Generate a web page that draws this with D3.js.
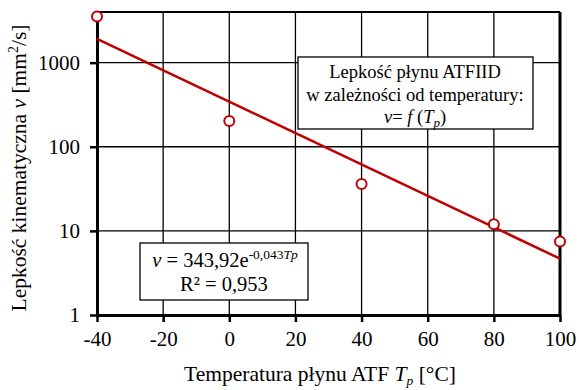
<!DOCTYPE html>
<html>
<head>
<meta charset="utf-8">
<script src="https://cdn.jsdelivr.net/npm/d3@7"></script>
<style>
    body { margin: 0; background: #fff; }
    text { font-family: "Liberation Serif", "Times New Roman", serif; fill: #000; }
</style>
</head>
<body>
<div id="chart"></div>
<script>
const tempValues = [-40, 0, 40, 80, 100];
const viscosityValues = [3530, 202, 36, 12, 7.5];
// fitted trend v = 343,92 e^(-0,043 Tp), end points
const trendTemps = [-40, 100];
const trendValues = [1921, 4.67];
const xTicks = [-40, -20, 0, 20, 40, 60, 80, 100];
const yTicks = [1, 10, 100, 1000];

const width = 579, height = 390;
const plotLeft = 97, plotRight = 560, plotTop = 12, plotBottom = 315;
const red = '#C00000';
const serif = '"Liberation Serif", "Times New Roman", serif';

const svg = d3.select('#chart').append('svg')
    .attr('width', width)
    .attr('height', height);

const x = d3.scaleLinear().domain([-40, 100]).range([plotLeft, plotRight]);
const y = d3.scaleLog().domain([1, 4000]).range([plotBottom, plotTop]);

// grid
svg.append('g')
    .selectAll('line')
    .data(xTicks)
    .join('line')
    .attr('x1', d => x(d)).attr('x2', d => x(d))
    .attr('y1', plotTop).attr('y2', plotBottom)
    .style('stroke', '#000')
    .style('stroke-width', 1.3);
svg.append('g')
    .selectAll('line')
    .data(yTicks)
    .join('line')
    .attr('x1', plotLeft).attr('x2', plotRight)
    .attr('y1', d => y(d)).attr('y2', d => y(d))
    .style('stroke', '#000')
    .style('stroke-width', 1.3);

// frame
svg.append('line').attr('x1', plotLeft).attr('x2', plotRight).attr('y1', plotTop).attr('y2', plotTop)
    .style('stroke', '#000').style('stroke-width', 2);
svg.append('line').attr('x1', plotRight).attr('x2', plotRight).attr('y1', plotTop).attr('y2', plotBottom)
    .style('stroke', '#000').style('stroke-width', 3);

// axes
const xAxis = svg.append('g')
    .attr('transform', `translate(0, ${plotBottom})`)
    .call(d3.axisBottom(x).tickValues(xTicks).tickSize(7).tickSizeOuter(0).tickFormat(d3.format('d')));
const yAxis = svg.append('g')
    .attr('transform', `translate(${plotLeft}, 0)`)
    .call(d3.axisLeft(y).tickValues(yTicks).tickSize(7).tickSizeOuter(0).tickFormat(d3.format('d')));

[xAxis, yAxis].forEach(a => {
    a.attr('font-family', serif);
    a.select('.domain').style('stroke', '#000').style('stroke-width', 3);
    a.selectAll('.tick line').style('stroke', '#000').style('stroke-width', 2.5);
    a.selectAll('.tick text')
        .style('font-family', serif)
        .style('font-size', '21px')
        .style('fill', '#000');
});
xAxis.selectAll('.tick text').attr('y', 16).text(d => d < 0 ? '-' + Math.abs(d) : d);
yAxis.selectAll('.tick text').attr('x', -17);

// trend line
svg.append('path')
    .datum(trendTemps.map((t, i) => [t, trendValues[i]]))
    .attr('d', d3.line().x(d => x(d[0])).y(d => y(d[1])))
    .style('fill', 'none')
    .style('stroke', red)
    .style('stroke-width', 2.5);

// measured points
svg.append('g')
    .selectAll('circle')
    .data(tempValues.map((t, i) => [t, viscosityValues[i]]))
    .join('circle')
    .attr('cx', d => x(d[0]))
    .attr('cy', d => y(d[1]))
    .attr('r', 5)
    .style('fill', '#fff')
    .style('stroke', red)
    .style('stroke-width', 2);

// title box
const titleBox = svg.append('g');
titleBox.append('rect')
    .attr('x', 298).attr('y', 57).attr('width', 235).attr('height', 72)
    .style('fill', '#fff').style('stroke', '#000').style('stroke-width', 1.3);
const tb = titleBox.append('text').attr('text-anchor', 'middle').style('font-size', '18.5px');
tb.append('tspan').attr('x', 415).attr('y', 78).text('Lepkość płynu ATFIID');
tb.append('tspan').attr('x', 415).attr('y', 101).text('w zależności od temperatury:');
const l3 = tb.append('tspan').attr('x', 415).attr('y', 123);
l3.append('tspan').style('font-style', 'italic').text('ν');
l3.append('tspan').text('= ');
l3.append('tspan').style('font-style', 'italic').text('f');
l3.append('tspan').text(' (');
l3.append('tspan').style('font-style', 'italic').text('T');
l3.append('tspan').style('font-style', 'italic').style('font-size', '13px').attr('dy', 4).text('p');
l3.append('tspan').attr('dy', -4).text(')');

// equation box
const eqBox = svg.append('g');
eqBox.append('rect')
    .attr('x', 140).attr('y', 243).attr('width', 168).attr('height', 57)
    .style('fill', '#fff').style('stroke', '#000').style('stroke-width', 1.3);
const eq = eqBox.append('text').attr('text-anchor', 'middle').style('font-size', '20.5px');
const e1 = eq.append('tspan').attr('x', 225).attr('y', 267);
e1.append('tspan').style('font-style', 'italic').text('ν');
e1.append('tspan').text(' = 343,92e');
e1.append('tspan').style('font-size', '13.5px').attr('dy', -8).text('-0,043');
e1.append('tspan').style('font-size', '13.5px').style('font-style', 'italic').text('Tp');
eq.append('tspan').attr('x', 224).attr('y', 291).text('R² = 0,953');

// axis titles
const xt = svg.append('text')
    .attr('x', 320).attr('y', 381)
    .attr('text-anchor', 'middle')
    .style('font-size', '21.5px');
xt.append('tspan').text('Temperatura płynu ATF ');
xt.append('tspan').style('font-style', 'italic').text('T');
xt.append('tspan').style('font-style', 'italic').style('font-size', '13.5px').attr('dy', 4).text('p');
xt.append('tspan').attr('dy', -4).text(' [°C]');

const yt = svg.append('text')
    .attr('transform', 'translate(26, 168) rotate(-90)')
    .attr('text-anchor', 'middle')
    .style('font-size', '21.5px');
yt.append('tspan').text('Lepkość kinematyczna ');
yt.append('tspan').style('font-style', 'italic').text('ν');
yt.append('tspan').text(' [mm');
yt.append('tspan').style('font-size', '14px').attr('dy', -8).text('2');
yt.append('tspan').attr('dy', 8).text('/s]');
</script>
</body>
</html>
